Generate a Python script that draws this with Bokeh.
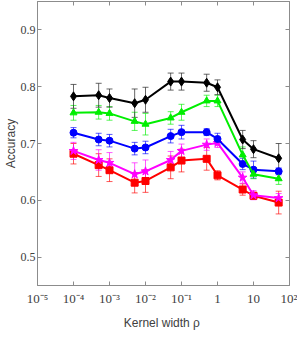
from bokeh.plotting import figure
from bokeh.models import (LogAxis, LinearAxis, FixedTicker, Whisker, TeeHead,
                          ColumnDataSource, Range1d)
from bokeh.embed import file_html
from bokeh.resources import INLINE

# ---- data ----
rho = [1e-4, 5e-4, 1e-3, 5e-3, 1e-2, 5e-2, 1e-1, 5e-1, 1, 5, 10, 50]

black = [0.783, 0.785, 0.780, 0.771, 0.777, 0.809, 0.809, 0.807, 0.799, 0.707, 0.690, 0.674]
black_err = [0.021, 0.021, 0.016, 0.025, 0.022, 0.015, 0.015, 0.015, 0.013, 0.016, 0.015, 0.026]

green = [0.754, 0.755, 0.753, 0.739, 0.734, 0.745, 0.755, 0.775, 0.775, 0.680, 0.646, 0.638]
green_err = [0.013, 0.012, 0.012, 0.016, 0.019, 0.011, 0.014, 0.010, 0.010, 0.014, 0.008, 0.010]

blue = [0.719, 0.707, 0.705, 0.691, 0.693, 0.713, 0.720, 0.720, 0.708, 0.664, 0.654, 0.651]
blue_err = [0.009, 0.011, 0.011, 0.011, 0.011, 0.012, 0.012, 0.006, 0.010, 0.010, 0.015, 0.006]

magenta = [0.687, 0.671, 0.666, 0.646, 0.651, 0.671, 0.687, 0.698, 0.701, 0.640, 0.609, 0.604]
magenta_err = [0.015, 0.018, 0.018, 0.020, 0.020, 0.015, 0.012, 0.010, 0.008, 0.010, 0.008, 0.008]

red = [0.682, 0.662, 0.653, 0.631, 0.634, 0.658, 0.670, 0.673, 0.644, 0.619, 0.608, 0.596]
red_err = [0.018, 0.020, 0.020, 0.018, 0.020, 0.020, 0.020, 0.020, 0.008, 0.010, 0.006, 0.020]

xticks = [1e-5, 1e-4, 1e-3, 1e-2, 1e-1, 1, 10, 100]
xtick_labels = ["10\u207b\u2075", "10\u207b\u2074", "10\u207b\u00b3", "10\u207b\u00b2",
                "10\u207b\u00b9", "1", "10", "10\u00b2"]
yticks = [0.5, 0.6, 0.7, 0.8, 0.9]
ytick_labels = ["0.5", "0.6", "0.7", "0.8", "0.9"]

series = [
    (red, red_err, "#ff0000", "square", 0.65),
    (magenta, magenta_err, "#ff00ff", "star", 0.65),
    (blue, blue_err, "#0000ff", "circle", 0.65),
    (green, green_err, "#00ee00", "triangle", 0.65),
    (black, black_err, "#000000", "diamond", 0.75),
]

AX = "#8c8c8c"
TXT = "#404040"
TICKFONT = "Liberation Sans Narrow"

p = figure(x_axis_type="log", x_range=Range1d(1e-5, 1e2), y_range=Range1d(0.45, 0.95),
           frame_width=252, frame_height=284, output_backend="svg", toolbar_location=None,
           min_border_left=0, min_border_right=8, min_border_top=1, min_border_bottom=0,
           background_fill_color="white", border_fill_color="white")
p.grid.visible = False
p.outline_line_color = AX
p.outline_line_width = 1

def style_axis(ax, labels=True):
    ax.axis_line_color = AX
    ax.major_tick_line_color = AX
    ax.major_tick_in = 4
    ax.major_tick_out = 0
    ax.minor_tick_line_color = None
    if labels:
        ax.major_label_text_font = TICKFONT
        ax.major_label_text_font_size = "12px"
        ax.major_label_text_color = TXT
        ax.major_label_standoff = 3
        ax.axis_label_text_font = "Liberation Sans"
        ax.axis_label_text_font_size = "12px"
        ax.axis_label_text_font_style = "normal"
        ax.axis_label_text_color = TXT
        ax.axis_label_standoff = 3
    else:
        ax.major_label_text_font_size = "1px"
        ax.major_label_text_alpha = 0
        ax.major_label_standoff = 0

xax = p.xaxis[0]
xax.ticker = FixedTicker(ticks=xticks, minor_ticks=[])
xax.major_label_overrides = dict(zip(xticks, xtick_labels))
xax.axis_label = "Kernel width  \u03c1"
style_axis(xax)
xax.major_label_text_font_size = "13px"
xax.major_label_standoff = 5
xax.axis_label_standoff = 7

yax = p.yaxis[0]
yax.ticker = FixedTicker(ticks=yticks, minor_ticks=[])
yax.major_label_overrides = dict(zip(yticks, ytick_labels))
yax.axis_label = "Accuracy"
style_axis(yax)
yax.major_label_standoff = 2
yax.axis_label_standoff = 0

top = LogAxis(ticker=FixedTicker(ticks=xticks, minor_ticks=[]))
style_axis(top, labels=False)
top.major_label_overrides = {t: "" for t in xticks}
p.add_layout(top, "above")
right = LinearAxis(ticker=FixedTicker(ticks=yticks, minor_ticks=[]))
style_axis(right, labels=False)
right.major_label_overrides = {t: "" for t in yticks}
p.add_layout(right, "right")

for vals, errs, col, marker, ealpha in series:
    src = ColumnDataSource(dict(x=rho, y=vals,
                                upper=[v + e for v, e in zip(vals, errs)],
                                lower=[v - e for v, e in zip(vals, errs)]))
    ecol = "#333333" if col == "#000000" else col
    w = Whisker(source=src, base="x", upper="upper", lower="lower", dimension="height",
                line_color=ecol, line_alpha=ealpha, line_width=1,
                upper_head=TeeHead(size=6, line_color=ecol, line_alpha=ealpha, line_width=1),
                lower_head=TeeHead(size=6, line_color=ecol, line_alpha=ealpha, line_width=1))
    p.add_layout(w)
    p.line("x", "y", source=src, line_color=col, line_width=2)
    sz = 9 if marker in ("diamond", "star") else 7
    p.scatter("x", "y", source=src, marker=marker, size=sz, fill_color=col, line_color=col)

open("out.html", "w").write(file_html(p, INLINE))
